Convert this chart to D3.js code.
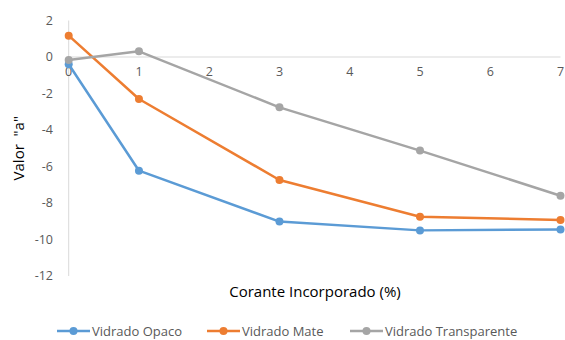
<!DOCTYPE html>
<html>
<head>
<meta charset="utf-8">
<script src="https://cdn.jsdelivr.net/npm/d3@7"></script>
<style>
  html, body { margin: 0; padding: 0; background: #fff; }
  svg { display: block; font-family: "Open Sans", "Noto Sans", sans-serif; }
</style>
</head>
<body>
<svg id="chart" width="565" height="340"></svg>
<script>
// Corante incorporado (%) e valor "a" para cada tipo de vidrado
const xValues = [0, 1, 3, 5, 7];
const opaco = [-0.4, -6.23, -9.02, -9.5, -9.45];
const mate = [1.17, -2.3, -6.74, -8.75, -8.93];
const transparente = [-0.16, 0.31, -2.76, -5.13, -7.6];
const seriesNames = ["Vidrado Opaco", "Vidrado Mate", "Vidrado Transparente"];
const seriesColors = ["#5B9BD5", "#ED7D31", "#A5A5A5"];
const xTicks = [0, 1, 2, 3, 4, 5, 6, 7];
const yTicks = [2, 0, -2, -4, -6, -8, -10, -12];

const series = [opaco, mate, transparente].map((vals, i) => ({
  name: seriesNames[i],
  color: seriesColors[i],
  points: xValues.map((x, j) => ({ x, y: vals[j] }))
}));

const svg = d3.select("#chart");
const x = d3.scaleLinear().domain([0, 7]).range([68.7, 560.5]);
const y = d3.scaleLinear().domain([-12, 2]).range([276, 20.5]);

// eixo vertical
svg.append("line")
  .attr("x1", x(0)).attr("x2", x(0))
  .attr("y1", y(2)).attr("y2", y(-12))
  .attr("stroke", "#D9D9D9").attr("stroke-width", 1);

// eixo horizontal em y = 0
svg.append("line")
  .attr("x1", x(0)).attr("x2", x(7))
  .attr("y1", y(0)).attr("y2", y(0))
  .attr("stroke", "#D9D9D9").attr("stroke-width", 1);

// rótulos do eixo Y
svg.append("g").selectAll("text").data(yTicks).join("text")
  .attr("x", 53).attr("y", d => y(d))
  .attr("dy", "0.35em")
  .attr("text-anchor", "end")
  .attr("font-size", 12.5)
  .attr("fill", "#595959")
  .text(d => d3.format("d")(d).replace("−", "-"));

// rótulos do eixo X
svg.append("g").selectAll("text").data(xTicks).join("text")
  .attr("x", d => x(d)).attr("y", y(0) + 19)
  .attr("text-anchor", "middle")
  .attr("font-size", 12.5)
  .attr("fill", "#595959")
  .text(d => d);

// linhas e marcadores
const line = d3.line().x(d => x(d.x)).y(d => y(d.y));
series.forEach(s => {
  svg.append("path")
    .datum(s.points)
    .attr("d", line)
    .attr("fill", "none")
    .attr("stroke", s.color)
    .attr("stroke-width", 2.5)
    .attr("stroke-linejoin", "round");
  svg.append("g").selectAll("circle").data(s.points).join("circle")
    .attr("cx", d => x(d.x)).attr("cy", d => y(d.y))
    .attr("r", 4).attr("fill", s.color);
});

// títulos dos eixos
svg.append("text")
  .attr("transform", `translate(24, ${(y(2) + y(-12)) / 2}) rotate(-90)`)
  .attr("text-anchor", "middle")
  .attr("font-size", 15)
  .attr("fill", "#000")
  .attr("xml:space", "preserve")
  .text('Valor  "a"');

svg.append("text")
  .attr("x", 315).attr("y", 297)
  .attr("text-anchor", "middle")
  .attr("font-size", 15)
  .attr("fill", "#000")
  .text("Corante Incorporado (%)");

// legenda
const legendX = [57, 207, 350];
const legend = svg.append("g").selectAll("g").data(series).join("g")
  .attr("transform", (d, i) => `translate(${legendX[i]}, 331)`);
legend.append("line")
  .attr("x1", 0).attr("x2", 33).attr("y1", 0).attr("y2", 0)
  .attr("stroke", d => d.color).attr("stroke-width", 2.5);
legend.append("circle")
  .attr("cx", 16.5).attr("cy", 0).attr("r", 4)
  .attr("fill", d => d.color);
legend.append("text")
  .attr("x", 35).attr("y", 0).attr("dy", "0.35em")
  .attr("font-size", 13)
  .attr("fill", "#595959")
  .text(d => d.name);
</script>
</body>
</html>
